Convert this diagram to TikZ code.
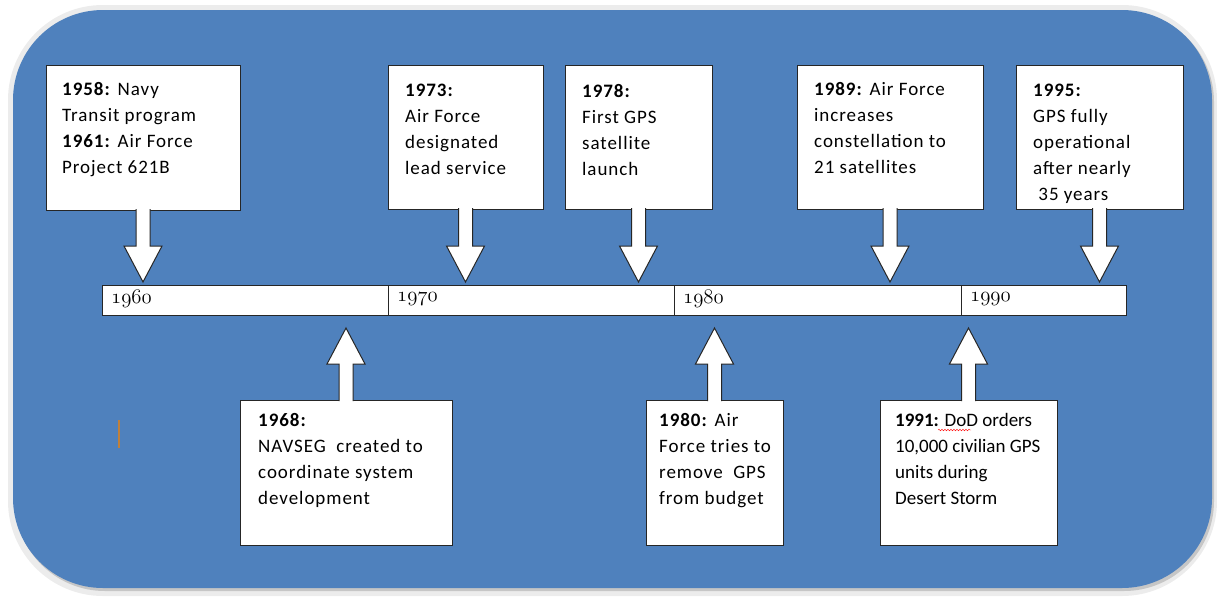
\documentclass[tikz,border=0pt]{standalone}
\usepackage{fontspec}
\setmainfont{Carlito}
\newfontfamily\eventfont[LetterSpace=5]{Carlito}
\usetikzlibrary{calc,decorations.pathmorphing}
\definecolor{panelblue}{HTML}{4F81BD}
\definecolor{panelrim}{HTML}{ECECEC}
\definecolor{cursor}{HTML}{C0803A}
\newcommand{\fatarrow}[3]{%
    \path ($(#1)!-1pt!(#2)$) coordinate (bs)
          ($(#2)!#3!(#1)$) coordinate (tip)
          ($(tip)!36pt!(#1)$) coordinate (hb);
    \draw[blockarrow] ([xshift=-7pt]bs) -- ([xshift=-7pt]hb) -- ([xshift=-19pt]hb) -- (tip)
        -- ([xshift=19pt]hb) -- ([xshift=7pt]hb) -- ([xshift=7pt]bs);}
\begin{document}
\begin{tikzpicture}[x = 1pt, y = -1pt,
        event/.style = {draw = black!85, fill = white, line width = 1pt, anchor = north west, inner sep = 0pt, outer sep = 0pt},
        eventtext/.style = {anchor = north west, align = left, inner sep = 0pt, font = \eventfont\fontsize{19}{26}\selectfont},
        decade/.style = {draw = black!85, fill = white, line width = 1pt, minimum height = 30pt, inner sep = 0pt, outer sep = 0pt},
        yearlabel/.style = {anchor = west, inner sep = 0pt, font = \fontsize{21}{21}\selectfont},
        blockarrow/.style = {draw = black!85, fill = white, line width = 1pt, line join = miter}]
    \useasboundingbox (0,0) rectangle (1217,600);
    \fill[panelrim, rounded corners = 95pt] (8,5) rectangle (1217,596);
    \fill[gray!45, rounded corners = 90pt] (15,12) rectangle (1214,591);
    \fill[panelblue, rounded corners = 90pt] (13,10) rectangle (1212,588);
    \draw[cursor, line width = 2pt] (119,420) -- (119,448);

    \node[decade, minimum width = 286pt, anchor = north west] (d60) at (102,285) {};
    \node[decade, minimum width = 286pt, anchor = west] (d70) at (d60.east) {};
    \node[decade, minimum width = 287pt, anchor = west] (d80) at (d70.east) {};
    \node[decade, minimum width = 165pt, anchor = west] (d90) at (d80.east) {};
    \node[yearlabel] (y60) at ([xshift = 9pt, yshift = 1pt]d60.west) {$\mathnormal{1960}$};
    \node[yearlabel] (y70) at ([xshift = 9pt, yshift = 1pt]d70.west) {$\mathnormal{1970}$};
    \node[yearlabel] (y80) at ([xshift = 9pt, yshift = 1pt]d80.west) {$\mathnormal{1980}$};
    \node[yearlabel] (y90) at ([xshift = 9pt, yshift = 1pt]d90.west) {$\mathnormal{1990}$};

    \node[event, minimum width = 194pt, minimum height = 145pt] (e58) at (46,65) {};
    \node[event, minimum width = 155pt, minimum height = 144pt] (e73) at (388,65) {};
    \node[event, minimum width = 147pt, minimum height = 144pt] (e78) at (565,65) {};
    \node[event, minimum width = 186pt, minimum height = 144pt] (e89) at (797,65) {};
    \node[event, minimum width = 167pt, minimum height = 144pt] (e95) at (1016,65) {};
    \node[event, minimum width = 212pt, minimum height = 145pt] (e68) at (240,400) {};
    \node[event, minimum width = 137pt, minimum height = 145pt] (e80) at (646,400) {};
    \node[event, minimum width = 177pt, minimum height = 145pt] (e91) at (880,400) {};

    \node[eventtext] (t58) at ([xshift = 16pt, yshift = -17pt]e58.north west)
        {\textbf{1958:} Navy\\Transit program\\\textbf{1961:} Air Force\\Project 621B};
    \node[eventtext] (t73) at ([xshift = 17pt, yshift = -19pt]e73.north west)
        {\textbf{1973:}\\Air Force\\designated\\lead service};
    \node[eventtext] (t78) at ([xshift = 17pt, yshift = -19pt]e78.north west)
        {\textbf{1978:}\\First GPS\\satellite\\launch};
    \node[eventtext] (t89) at ([xshift = 17pt, yshift = -17pt]e89.north west)
        {\textbf{1989:} Air Force\\increases\\constellation to\\21 satellites};
    \node[eventtext] (t95) at ([xshift = 17pt, yshift = -19pt]e95.north west)
        {\textbf{1995:}\\GPS fully\\operational\\after nearly\\\ 35 years};
    \node[eventtext] (t68) at ([xshift = 18pt, yshift = -13pt]e68.north west)
        {\textbf{1968:}\\NAVSEG\ \ created to\\coordinate system\\development};
    \node[eventtext] (t80) at ([xshift = 13pt, yshift = -13pt]e80.north west)
        {\textbf{1980:} Air\\Force tries to\\remove\ \ GPS\\from budget};
    \node[eventtext, font = \fontsize{19}{26}\selectfont] (t91) at ([xshift = 15pt, yshift = -13pt]e91.north west)
        {\textbf{1991:} DoD orders\\10,000 civilian GPS\\units during\\Desert Storm};
    \draw[red, decorate, decoration = {snake, amplitude = 0.8pt, segment length = 3pt}] (938,430) -- (971,430);

    \fatarrow{e58.south}{e58.south |- d60.north}{3pt}
    \fatarrow{e73.south}{e73.south |- d70.north}{3pt}
    \fatarrow{e78.south}{e78.south |- d70.north}{3pt}
    \fatarrow{e89.south}{e89.south |- d80.north}{3pt}
    \fatarrow{e95.south}{e95.south |- d90.north}{3pt}
    \fatarrow{e68.north}{e68.north |- d60.south}{13pt}
    \fatarrow{e80.north}{e80.north |- d80.south}{13pt}
    \fatarrow{e91.north}{e91.north |- d90.south}{13pt}
\end{tikzpicture}
\end{document}
